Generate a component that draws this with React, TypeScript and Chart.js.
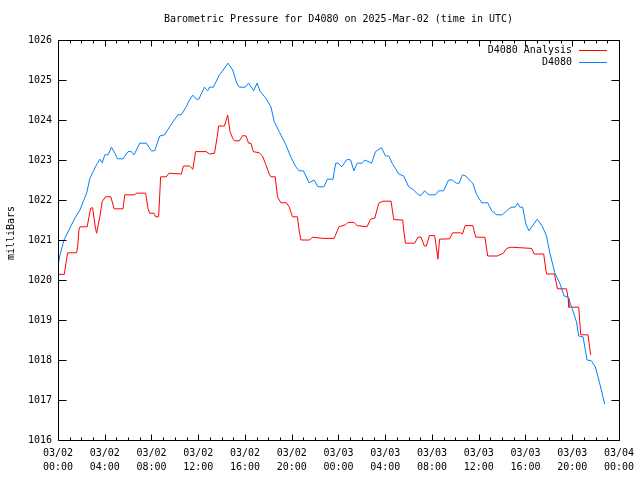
import React, { useEffect, useRef } from "react";
import { Chart, registerables } from "chart.js";

Chart.register(...registerables);

const TITLE = "Barometric Pressure for D4080 on 2025-Mar-02 (time in UTC)";
const Y_TITLE = "milliBars";
const SERIES_NAMES = ["D4080 Analysis", "D4080"];
const SERIES_COLORS = ["#ff0000", "#0080ff"];

const X_TICK_DATES = ["03/02", "03/02", "03/02", "03/02", "03/02", "03/02", "03/03", "03/03", "03/03", "03/03", "03/03", "03/03", "03/04"];
const X_TICK_TIMES = ["00:00", "04:00", "08:00", "12:00", "16:00", "20:00", "00:00", "04:00", "08:00", "12:00", "16:00", "20:00", "00:00"];
const X_MIN_HOURS = 0;
const X_MAX_HOURS = 48;
const Y_MIN = 1016;
const Y_MAX = 1026;

// hours since 2025-03-02 00:00 UTC
const analysisHours = [
  0, 0.54, 0.68, 0.83, 1.59, 1.68, 1.79, 1.88, 2.50, 2.64,
  2.79, 2.96, 3.09, 3.21, 3.30, 3.44, 3.58, 3.78, 4.07, 4.52,
  4.80, 5.57, 5.71, 6.56, 6.71, 7.50, 7.70, 7.84, 8.21, 8.36,
  8.61, 8.72, 8.78, 9.27, 9.49, 10.55, 10.74, 11.25, 11.54, 11.77,
  12.68, 12.96, 13.39, 13.58, 13.75, 14.24, 14.52, 14.72, 14.95, 15.09,
  15.52, 15.80, 16.09, 16.31, 16.51, 16.71, 17.22, 17.50, 17.79, 18.07,
  18.22, 18.59, 18.78, 19.07, 19.55, 19.78, 20.06, 20.49, 20.63, 20.78,
  21.54, 21.77, 22.68, 23.62, 24.04, 24.61, 24.81, 25.32, 25.60, 26.45,
  26.74, 27.11, 27.45, 27.79, 28.50, 28.73, 29.50, 29.58, 29.73, 30.52,
  30.80, 31.06, 31.35, 31.52, 31.78, 32.23, 32.37, 32.51, 32.65, 33.51,
  33.76, 34.47, 34.61, 34.84, 35.49, 35.75, 36.53, 36.77, 37.60, 38.11,
  38.39, 38.77, 40.52, 40.75, 41.56, 41.80, 42.48, 42.74, 43.51, 43.65,
  43.71, 44.56, 44.73, 45.35, 45.58,
];
const analysisPressure = [
  1020.14, 1020.14, 1020.42, 1020.68, 1020.68, 1020.83, 1021.25, 1021.33, 1021.33, 1021.56,
  1021.79, 1021.81, 1021.54, 1021.29, 1021.17, 1021.38, 1021.58, 1021.96, 1022.08, 1022.08,
  1021.78, 1021.78, 1022.13, 1022.13, 1022.17, 1022.17, 1021.79, 1021.67, 1021.67, 1021.58,
  1021.58, 1022.2, 1022.58, 1022.58, 1022.67, 1022.65, 1022.85, 1022.85, 1022.77, 1023.21,
  1023.21, 1023.15, 1023.17, 1023.5, 1023.85, 1023.85, 1024.12, 1023.71, 1023.54, 1023.48,
  1023.48, 1023.61, 1023.6, 1023.42, 1023.42, 1023.21, 1023.18, 1023.1, 1022.88, 1022.65,
  1022.58, 1022.58, 1022.08, 1021.93, 1021.93, 1021.83, 1021.58, 1021.58, 1021.25, 1021.0,
  1021.0, 1021.07, 1021.04, 1021.04, 1021.33, 1021.38, 1021.44, 1021.44, 1021.36, 1021.33,
  1021.52, 1021.55, 1021.92, 1021.97, 1021.97, 1021.51, 1021.5, 1021.25, 1020.92, 1020.92,
  1021.07, 1021.07, 1020.85, 1020.85, 1021.11, 1021.11, 1020.83, 1020.52, 1021.02, 1021.03,
  1021.18, 1021.18, 1021.15, 1021.36, 1021.36, 1021.07, 1021.07, 1020.6, 1020.6, 1020.67,
  1020.79, 1020.82, 1020.79, 1020.65, 1020.65, 1020.15, 1020.15, 1019.78, 1019.78, 1019.54,
  1019.32, 1019.32, 1018.63, 1018.63, 1018.13,
];

const stationHours = [
  0, 0.17, 0.51, 1.02, 1.45, 1.88, 2.16, 2.45, 2.73, 3.01,
  3.30, 3.58, 3.78, 4.01, 4.29, 4.58, 4.86, 5.09, 5.57, 5.99,
  6.28, 6.51, 6.99, 7.56, 7.99, 8.27, 8.70, 9.12, 9.55, 10.26,
  10.55, 10.97, 11.25, 11.54, 11.83, 12.05, 12.53, 12.81, 12.96, 13.30,
  13.81, 14.09, 14.54, 14.95, 15.29, 15.52, 16.03, 16.31, 16.74, 17.03,
  17.31, 17.79, 18.22, 18.50, 18.93, 19.50, 19.92, 20.35, 20.63, 21.00,
  21.48, 21.91, 22.25, 22.76, 23.05, 23.53, 23.76, 23.98, 24.27, 24.75,
  25.04, 25.32, 25.60, 26.03, 26.26, 26.83, 27.17, 27.68, 28.02, 28.31,
  28.59, 29.16, 29.58, 30.01, 30.44, 30.86, 31.09, 31.37, 31.72, 32.29,
  32.57, 32.99, 33.42, 33.76, 34.08, 34.33, 34.61, 34.90, 35.19, 35.49,
  35.83, 36.26, 36.77, 37.11, 37.54, 38.02, 38.39, 38.77, 39.11, 39.33,
  39.53, 39.76, 40.05, 40.30, 41.01, 41.43, 41.80, 42.09, 42.52, 42.94,
  43.31, 43.65, 43.99, 44.36, 44.56, 44.93, 45.27, 45.64, 45.98, 46.35,
  46.78,
];
const stationPressure = [
  1020.35, 1020.63, 1021.0, 1021.3, 1021.55, 1021.75, 1021.96, 1022.17, 1022.54, 1022.71,
  1022.88, 1023.02, 1022.93, 1023.13, 1023.13, 1023.32, 1023.17, 1023.03, 1023.03, 1023.21,
  1023.21, 1023.13, 1023.42, 1023.42, 1023.23, 1023.23, 1023.6, 1023.63, 1023.83, 1024.13,
  1024.13, 1024.33, 1024.5, 1024.62, 1024.52, 1024.52, 1024.82, 1024.73, 1024.82, 1024.82,
  1025.13, 1025.23, 1025.42, 1025.25, 1024.92, 1024.82, 1024.82, 1024.92, 1024.73, 1024.92,
  1024.71, 1024.54, 1024.33, 1023.96, 1023.71, 1023.38, 1023.08, 1022.83, 1022.73, 1022.73,
  1022.43, 1022.5, 1022.33, 1022.33, 1022.52, 1022.52, 1022.92, 1022.92, 1022.83, 1023.02,
  1023.0, 1022.73, 1022.92, 1022.92, 1023.0, 1022.92, 1023.21, 1023.31, 1023.1, 1023.1,
  1022.92, 1022.65, 1022.6, 1022.33, 1022.25, 1022.12, 1022.12, 1022.23, 1022.13, 1022.13,
  1022.23, 1022.23, 1022.5, 1022.5, 1022.42, 1022.42, 1022.63, 1022.6, 1022.5, 1022.42,
  1022.13, 1021.93, 1021.93, 1021.73, 1021.63, 1021.63, 1021.73, 1021.82, 1021.82, 1021.92,
  1021.82, 1021.82, 1021.38, 1021.23, 1021.52, 1021.35, 1021.1, 1020.67, 1020.17, 1019.92,
  1019.6, 1019.57, 1019.29, 1018.96, 1018.6, 1018.58, 1018.0, 1017.98, 1017.83, 1017.42,
  1016.9,
];

const FONT_FAMILY = '"DejaVu Sans Mono", "Liberation Mono", monospace';

function toPoints(xs: number[], ys: number[]) {
  const n = Math.min(xs.length, ys.length);
  const out: { x: number; y: number }[] = [];
  for (let i = 0; i < n; i++) out.push({ x: xs[i], y: ys[i] });
  return out;
}

const gnuplotFrame = {
  id: "gnuplotFrame",
  afterDatasetsDraw(chart: any) {
    const { ctx, chartArea: a, scales } = chart;
    const xs = scales.x;
    const ys = scales.y;
    const L = Math.round(a.left) + 0.5;
    const R = Math.round(a.right) + 0.5;
    const T = Math.round(a.top) + 0.5;
    const B = Math.round(a.bottom) + 0.5;
    ctx.save();
    ctx.strokeStyle = "#000";
    ctx.lineWidth = 1;
    ctx.beginPath();
    ctx.rect(L, T, R - L, B - T);
    for (let h = X_MIN_HOURS; h <= X_MAX_HOURS; h++) {
      const px = Math.round(xs.getPixelForValue(h)) + 0.5;
      const len = h % 4 === 0 ? 6 : 3;
      ctx.moveTo(px, B);
      ctx.lineTo(px, B - len);
      ctx.moveTo(px, T);
      ctx.lineTo(px, T + len);
    }
    for (let v = Y_MIN; v <= Y_MAX; v++) {
      const py = Math.round(ys.getPixelForValue(v)) + 0.5;
      ctx.moveTo(L, py);
      ctx.lineTo(L + 8, py);
      ctx.moveTo(R, py);
      ctx.lineTo(R - 8, py);
    }
    ctx.stroke();

    ctx.fillStyle = "#000";
    ctx.font = `10px ${FONT_FAMILY}`;
    ctx.textAlign = "center";
    ctx.textBaseline = "middle";
    ctx.fillText(TITLE, (a.left + a.right) / 2, 19.5);

    ctx.save();
    ctx.translate(11, 233);
    ctx.rotate(-Math.PI / 2);
    ctx.fillText(Y_TITLE, 0, 0);
    ctx.restore();

    // legend (inside, top right)
    const textRight = R - 47.5;
    const lineStart = R - 40.5;
    const lineEnd = R - 12.5;
    ctx.textAlign = "right";
    SERIES_NAMES.forEach((name, i) => {
      const yy = T + 9.5 + i * 12;
      ctx.fillStyle = "#000";
      ctx.fillText(name, textRight, yy);
      ctx.strokeStyle = SERIES_COLORS[i];
      ctx.beginPath();
      ctx.moveTo(lineStart, Math.round(yy) + 0.5);
      ctx.lineTo(lineEnd, Math.round(yy) + 0.5);
      ctx.stroke();
    });
    ctx.restore();
  },
};

export default function App() {
  const canvasRef = useRef<HTMLCanvasElement | null>(null);

  useEffect(() => {
    if (!canvasRef.current) return;
    const chart = new Chart(canvasRef.current, {
      type: "line",
      data: {
        datasets: [
          {
            label: SERIES_NAMES[0],
            data: toPoints(analysisHours, analysisPressure),
            borderColor: SERIES_COLORS[0],
            backgroundColor: SERIES_COLORS[0],
            borderWidth: 1,
            pointRadius: 0,
            tension: 0,
            fill: false,
            order: 1,
          },
          {
            label: SERIES_NAMES[1],
            data: toPoints(stationHours, stationPressure),
            borderColor: SERIES_COLORS[1],
            backgroundColor: SERIES_COLORS[1],
            borderWidth: 1,
            pointRadius: 0,
            tension: 0,
            fill: false,
            order: 0,
          },
        ],
      },
      options: {
        responsive: false,
        animation: false,
        devicePixelRatio: 1,
        layout: { padding: { top: 40, right: 19, left: 0, bottom: 0 } },
        plugins: {
          legend: { display: false },
          title: { display: false },
          tooltip: { enabled: false },
        },
        scales: {
          x: {
            type: "linear",
            min: X_MIN_HOURS,
            max: X_MAX_HOURS,
            grid: { display: false, drawTicks: false },
            border: { display: false },
            afterFit: (s: any) => {
              s.height = 40;
            },
            ticks: {
              stepSize: 4,
              autoSkip: false,
              maxRotation: 0,
              minRotation: 0,
              padding: 6,
              color: "#000",
              font: { family: FONT_FAMILY, size: 10, lineHeight: 1.4 },
              callback: (v: any) => {
                const i = Math.round(Number(v) / 4);
                return [X_TICK_DATES[i], X_TICK_TIMES[i]];
              },
            },
          },
          y: {
            type: "linear",
            min: Y_MIN,
            max: Y_MAX,
            grid: { display: false, drawTicks: false },
            border: { display: false },
            afterFit: (s: any) => {
              s.width = 58;
            },
            ticks: {
              stepSize: 1,
              padding: 6,
              color: "#000",
              font: { family: FONT_FAMILY, size: 10 },
              callback: (v: any) => String(v),
            },
          },
        },
      },
      plugins: [gnuplotFrame],
    });
    return () => chart.destroy();
  }, []);

  return (
    <div style={{ position: "absolute", left: 0, top: 0, width: 640, height: 480, background: "#fff" }}>
      <canvas ref={canvasRef} width={640} height={480} style={{ display: "block" }} />
    </div>
  );
}
